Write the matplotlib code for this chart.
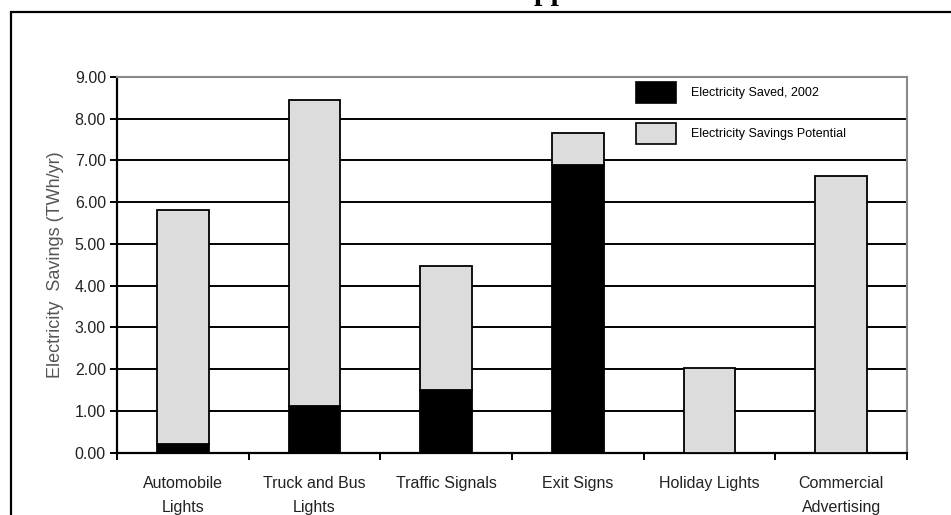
import matplotlib.pyplot as plt
from matplotlib.patches import Patch, Rectangle

plt.rcParams['font.family'] = ['Liberation Sans', 'DejaVu Sans']

categories = ['Automobile\nLights', 'Truck and Bus\nLights', 'Traffic Signals',
              'Exit Signs', 'Holiday Lights', 'Commercial\nAdvertising']
saved_2002 = [0.21, 1.13, 1.50, 6.88, 0.0, 0.0]
savings_potential = [5.61, 7.33, 2.98, 0.78, 2.02, 6.63]
yticks = [0, 1, 2, 3, 4, 5, 6, 7, 8, 9]

W, H = 951, 515
fig = plt.figure(figsize=(W / 100, H / 100), dpi=100)
ax = fig.add_axes([117 / W, 1 - 452.7 / H, 790 / W, 375.7 / H])

# cut off title and page box of the scanned document
fig.text(674 / W, 1.0, 'LED Niche Applications', ha='right', va='baseline',
         fontsize=21.6, fontweight='bold', family='Liberation Serif')
fig.add_artist(Rectangle((11 / W, -0.1), 1.2, 1.1 - 12 / H, transform=fig.transFigure,
                         fill=False, edgecolor='black', linewidth=1.6))

x = range(len(categories))
ax.bar(x, saved_2002, width=0.39, color='black', edgecolor='black', linewidth=1.3, zorder=3)
ax.bar(x, savings_potential, width=0.39, bottom=saved_2002, color='#dcdcdc',
       edgecolor='black', linewidth=1.3, zorder=3)

ax.set_xlim(-0.5, len(categories) - 0.5)
ax.set_ylim(0, 9)
ax.set_yticks(yticks)
ax.set_yticklabels(['%.2f' % v for v in yticks])
ax.yaxis.grid(True, color='black', linewidth=1.4)
ax.set_axisbelow(True)

ax.set_xticks(list(x))
ax.set_xticklabels(categories, linespacing=1.7)
ax.set_xticks([i - 0.5 for i in range(len(categories) + 1)], minor=True)
ax.tick_params(axis='x', which='major', length=0, pad=17, labelsize=11.5, labelcolor='#222222')
ax.tick_params(axis='x', which='minor', length=5, width=1.4, direction='out')
ax.tick_params(axis='y', length=5, width=1.4, direction='out', labelsize=11.5,
               labelcolor='#222222', pad=3)

for s in ['left', 'bottom']:
    ax.spines[s].set_linewidth(1.6)
    ax.spines[s].set_color('black')
for s in ['top', 'right']:
    ax.spines[s].set_linewidth(1.5)
    ax.spines[s].set_color('#8a8a8a')

ax.set_ylabel('Electricity  Savings (TWh/yr)', fontsize=13, color='#555555', labelpad=8)

handles = [Patch(facecolor='black', edgecolor='black', linewidth=1.2),
           Patch(facecolor='#dcdcdc', edgecolor='black', linewidth=1.2)]
ax.legend(handles, ['Electricity Saved, 2002', 'Electricity Savings Potential'],
          loc='upper left', bbox_to_anchor=(636 / W, 1 - 82 / H),
          bbox_transform=fig.transFigure, frameon=False, fontsize=9,
          handlelength=3.2, handleheight=2.2, handletextpad=1.2, labelspacing=1.6,
          borderpad=0, borderaxespad=0)

fig.savefig('out.png', dpi=100, facecolor='white')
